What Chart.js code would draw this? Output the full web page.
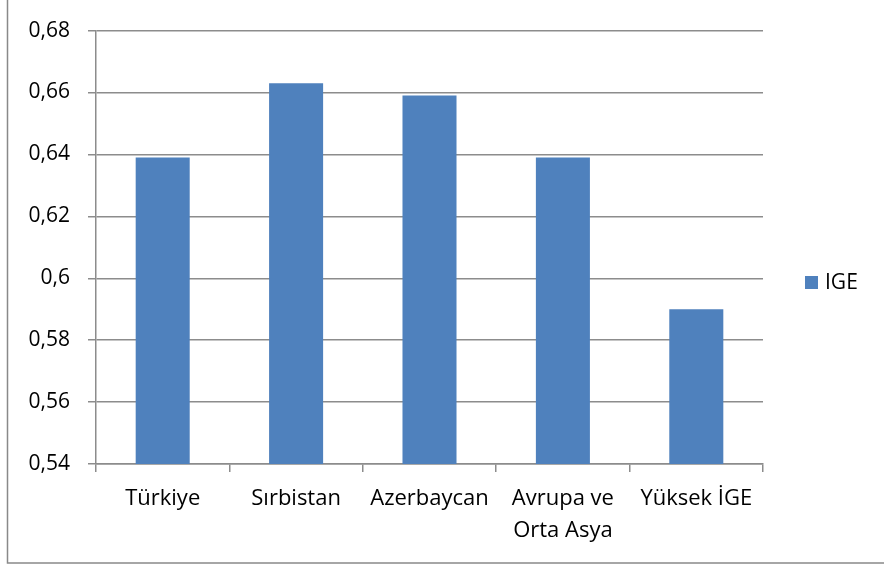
<!DOCTYPE html>
<html>
<head>
<meta charset="utf-8">
<script src="https://cdn.jsdelivr.net/npm/chart.js@4.4.1/dist/chart.umd.min.js"></script>
<style>
  html, body { margin: 0; padding: 0; background: #fff; }
  canvas { display: block; }
</style>
</head>
<body>
<canvas id="myChart" width="884" height="567"></canvas>
<script>
// 資料
const categories = ['Türkiye', 'Sırbistan', 'Azerbaycan', ['Avrupa ve', 'Orta Asya'], 'Yüksek İGE'];
const igeValues = [0.639, 0.663, 0.659, 0.639, 0.590];
const yTickLabels = ['0,54', '0,56', '0,58', '0,6', '0,62', '0,64', '0,66', '0,68'];
const seriesName = 'IGE';

const FONT = '"Open Sans", "Liberation Sans", sans-serif';
const GRID = '#8c8c8c';
const BAR = '#4f81bd';

// 外框
const frame = {
    id: 'frame',
    beforeDraw(chart) {
        const c = chart.ctx;
        c.save();
        c.fillStyle = '#fff';
        c.fillRect(0, 0, chart.width, chart.height);
        c.strokeStyle = '#898989';
        c.lineWidth = 1.5;
        c.strokeRect(7.5, -1, chart.width + 5, 564);
        c.restore();
    }
};

// 自訂圖例 (右側)
const sideLegend = {
    id: 'sideLegend',
    afterDraw(chart) {
        const c = chart.ctx;
        const ds = chart.data.datasets[0];
        c.save();
        c.fillStyle = ds.backgroundColor;
        c.fillRect(805, 276, 13, 13);
        c.fillStyle = '#000';
        c.font = '21px ' + FONT;
        c.textBaseline = 'middle';
        c.fillText(ds.label, 825, 283);
        c.restore();
    }
};

new Chart(document.getElementById('myChart'), {
    type: 'bar',
    data: {
        labels: categories,
        datasets: [{
            label: seriesName,
            data: igeValues,
            backgroundColor: BAR,
            borderWidth: 0,
            categoryPercentage: 1,
            barPercentage: 0.405
        }]
    },
    options: {
        responsive: false,
        animation: false,
        layout: { padding: { left: 0, top: 30, right: 121, bottom: 0 } },
        plugins: {
            legend: { display: false },
            tooltip: { enabled: false }
        },
        scales: {
            x: {
                offset: true,
                grid: {
                    drawOnChartArea: false,
                    drawTicks: true,
                    tickLength: 8,
                    color: GRID,
                    lineWidth: 1.5,
                    offset: true
                },
                border: { color: GRID, width: 1.5 },
                ticks: {
                    color: '#000',
                    padding: 11,
                    maxRotation: 0,
                    autoSkip: false,
                    font: { family: FONT, size: 22, lineHeight: 1.45 }
                },
                afterFit(axis) { axis.height = 103; }
            },
            y: {
                min: 0.54,
                max: 0.68,
                grid: {
                    color: GRID,
                    lineWidth: 1.5,
                    tickLength: 8
                },
                border: { color: GRID, width: 1.5 },
                ticks: {
                    stepSize: 0.02,
                    color: '#000',
                    padding: 18,
                    font: { family: FONT, size: 21 },
                    callback: (v, i) => yTickLabels[i]
                },
                afterFit(axis) { axis.width = 96; }
            }
        }
    },
    plugins: [frame, sideLegend]
});
</script>
</body>
</html>
